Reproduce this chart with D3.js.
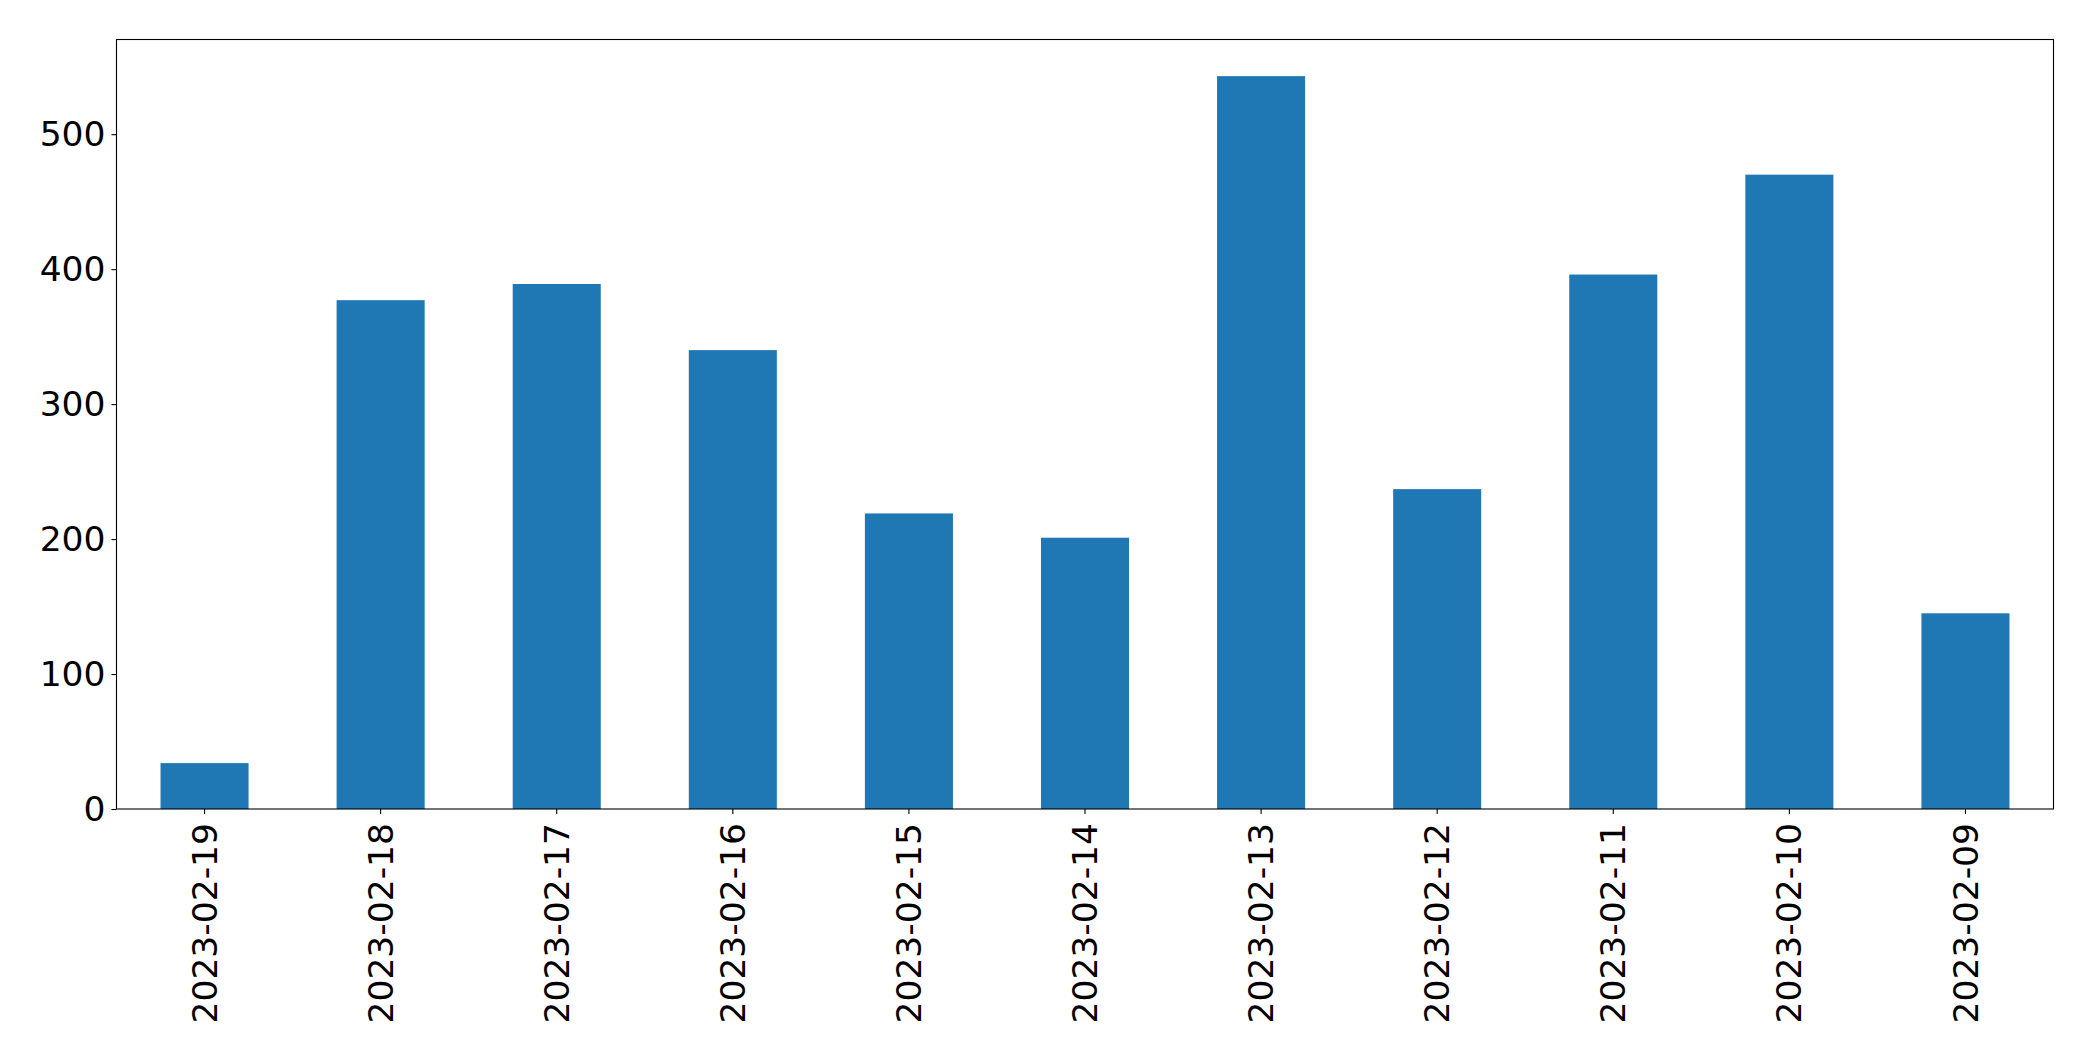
<!DOCTYPE html>
<html>
<head>
<meta charset="utf-8">
<script src="https://cdn.jsdelivr.net/npm/d3@7"></script>
<style>
  html, body { margin: 0; padding: 0; background: #fff; }
  svg { display: block; }
  text { font-family: "DejaVu Sans", sans-serif; }
</style>
</head>
<body>
<svg id="chart" width="2093" height="1061"></svg>
<script>
const categories = ["2023-02-19","2023-02-18","2023-02-17","2023-02-16","2023-02-15","2023-02-14","2023-02-13","2023-02-12","2023-02-11","2023-02-10","2023-02-09"];
const values = [34, 377, 389, 340, 219, 201, 543, 237, 396, 470, 145];
const yTicks = [0, 100, 200, 300, 400, 500];

const W = 2093, H = 1061;
const margin = {left: 116.5, right: W - 2053.5, top: 39.5, bottom: H - 809};
const svg = d3.select("#chart");
const innerW = W - margin.left - margin.right;
const innerH = H - margin.top - margin.bottom;
const g = svg.append("g").attr("transform", `translate(${margin.left},${margin.top})`);

const x = d3.scaleBand().domain(categories).range([0, innerW]).paddingInner(0.5).paddingOuter(0.25);
const yMax = d3.max(values) * 1.05;
const y = d3.scaleLinear().domain([0, yMax]).range([innerH, 0]);

g.selectAll("rect.bar").data(values).join("rect")
  .attr("class", "bar")
  .attr("x", (d, i) => x(categories[i]))
  .attr("width", x.bandwidth())
  .attr("y", d => y(d))
  .attr("height", d => innerH - y(d))
  .attr("fill", "#1f77b4");

const fs = "34.5px";
const yAxis = g.append("g").call(d3.axisLeft(y).tickValues(yTicks).tickSize(5).tickPadding(6).tickFormat(d3.format("d")));
yAxis.select(".domain").remove();
yAxis.selectAll("text").style("font-size", fs).attr("fill", "#000");
yAxis.selectAll("line").attr("stroke", "#000").attr("stroke-width", 1.1);

const xAxis = g.append("g").attr("transform", `translate(0,${innerH})`)
  .call(d3.axisBottom(x).tickSize(5).tickPadding(5));
xAxis.select(".domain").remove();
xAxis.selectAll("line").attr("stroke", "#000").attr("stroke-width", 1.1);
xAxis.selectAll("text")
  .style("font-size", fs).attr("fill", "#000")
  .attr("text-anchor", "end")
  .attr("dy", "0.35em")
  .attr("transform", "rotate(-90)")
  .attr("x", -14)
  .attr("y", 0);

// frame
g.append("rect").attr("x", 0).attr("y", 0).attr("width", innerW).attr("height", innerH)
  .attr("fill", "none").attr("stroke", "#000").attr("stroke-width", 1.1);
</script>
</body>
</html>
